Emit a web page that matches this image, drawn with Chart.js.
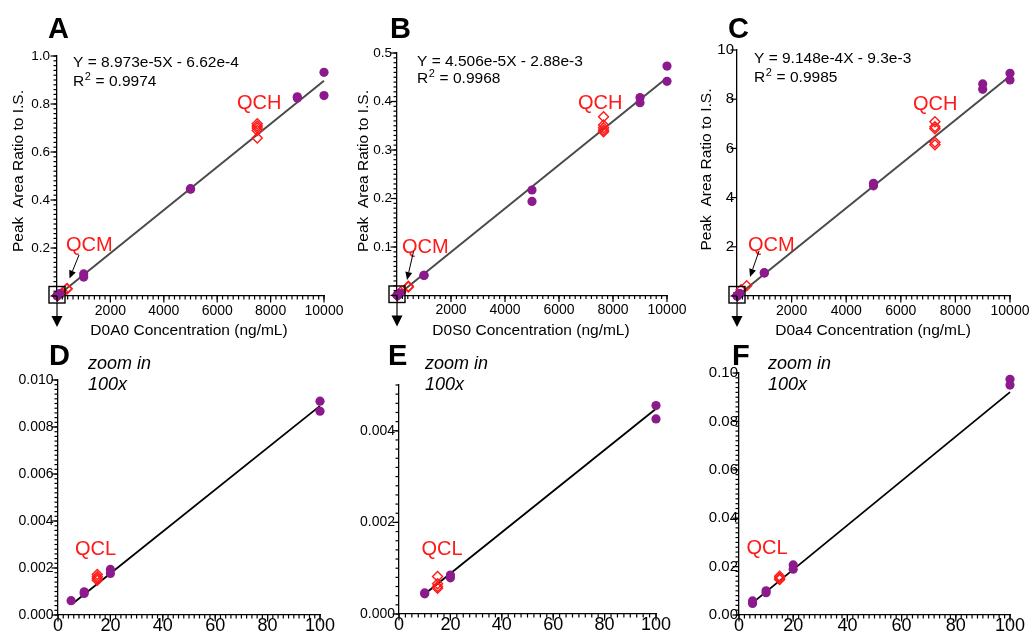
<!DOCTYPE html>
<html>
<head>
<meta charset="utf-8">
<title>Calibration curves</title>
<script src="https://cdn.jsdelivr.net/npm/chart.js@4.4.1/dist/chart.umd.min.js"></script>
<style>
  html, body { margin: 0; padding: 0; background: #fff; }
  #wrap { position: relative; width: 1030px; height: 633px; overflow: hidden; }
  #wrap canvas { position: absolute; left: 0; top: 0; }
</style>
</head>
<body>
<div id="wrap">
  <canvas id="cA" width="1030" height="633"></canvas>
  <canvas id="cB" width="1030" height="633"></canvas>
  <canvas id="cC" width="1030" height="633"></canvas>
  <canvas id="cD" width="1030" height="633"></canvas>
  <canvas id="cE" width="1030" height="633"></canvas>
  <canvas id="cF" width="1030" height="633"></canvas>
</div>
<script>
// ---------- data ----------

// D0A0 (panels A and D)
var concA    = [5, 10, 10, 20, 20, 100, 100, 1000, 1000, 5000, 5000, 9000, 9000, 10000, 10000];
var ratioA   = [0.00061, 0.00099, 0.00092, 0.00194, 0.00177, 0.0091, 0.00867, 0.092, 0.079, 0.447, 0.445, 0.830, 0.825, 0.932, 0.835];
var qcConcA  = [15, 15, 15, 15, 225, 375, 375, 7500, 7500, 7500, 7500, 7500];
var qcRatioA = [0.00172, 0.00163, 0.00155, 0.00148, 0.017, 0.029, 0.031, 0.718, 0.708, 0.700, 0.690, 0.658];
var fitConcA = [0, 10000];
var fitRatioA = [-0.0007, 0.897];
var fitConcD = [6, 100];
var fitRatioD = [0.00052, 0.0089];

// D0S0 (panels B and E)
var concB    = [10, 10, 20, 20, 100, 100, 1000, 1000, 5000, 5000, 9000, 9000, 10000, 10000];
var ratioB   = [0.00046, 0.00044, 0.00085, 0.00079, 0.00455, 0.00426, 0.0418, 0.0414, 0.2175, 0.194, 0.408, 0.3975, 0.473, 0.4416];
var qcConcB  = [15, 15, 15, 15, 130, 420, 420, 7650, 7650, 7650, 7650, 7650];
var qcRatioB = [0.00082, 0.00066, 0.0006, 0.00056, 0.007, 0.019, 0.0175, 0.3687, 0.3515, 0.346, 0.341, 0.3377];
var fitConcB = [5, 10000];
var fitRatioB = [0.0, 0.449];
var fitConcE = [11, 100];
var fitRatioE = [0.00048, 0.00448];

// D0a4 (panels C and F)
var concC    = [5, 5, 10, 10, 20, 20, 100, 100, 1000, 1000, 5000, 5000, 9000, 9000, 10000, 10000];
var ratioC   = [0.0058, 0.0048, 0.0100, 0.0092, 0.0207, 0.0189, 0.0974, 0.0950, 0.95, 0.93, 4.58, 4.48, 8.62, 8.40, 9.05, 8.78];
var qcConcC  = [15, 15, 15, 150, 355, 7250, 7250, 7250, 7250, 7250];
var qcRatioC = [0.0160, 0.0153, 0.0147, 0.25, 0.42, 7.08, 6.88, 6.80, 6.25, 6.15];
var fitConcC = [5, 10000];
var fitRatioC = [0.0, 8.94];
var fitConcF = [5, 100];
var fitRatioF = [0.005, 0.0921];

// tick labels
var xTicksFull = [0, 2000, 4000, 6000, 8000, 10000];
var xTicksZoom = [0, 20, 40, 60, 80, 100];
var yTicksA = [0, 0.2, 0.4, 0.6, 0.8, 1.0];
var yTicksB = [0, 0.1, 0.2, 0.3, 0.4, 0.5];
var yTicksC = [0, 2, 4, 6, 8, 10];
var yTicksD = [0, 0.002, 0.004, 0.006, 0.008, 0.010];
var yTicksE = [0, 0.002, 0.004];
var yTicksF = [0, 0.02, 0.04, 0.06, 0.08, 0.10];

var analytes  = ['D0A0', 'D0S0', 'D0a4'];
var equations = ['Y = 8.973e-5X - 6.62e-4', 'Y = 4.506e-5X - 2.88e-3', 'Y = 9.148e-4X - 9.3e-3'];
var r2values  = ['0.9974', '0.9968', '0.9985'];

// ---------- styling ----------
var FONT = '"Liberation Sans", Arial, Helvetica, sans-serif';
var PURPLE = '#8c1a8c';
var RED = '#ff1a1a';
var yTitle = 'Peak  Area Ratio to I.S.';

var panels = {
  cA: { area: {l: 57, t: 56, r: 324, b: 296}, xmax: 10000, ymax: 1.0, xTicks: xTicksFull, yTicks: yTicksA,
        minorX: 200, minorY: 0.02, yDigits: 1, hideZero: true, xFont: 14, yFont: 13.5, xPad: 6.5, yPad: 7,
        cx: concA, cy: ratioA, qx: qcConcA, qy: qcRatioA, fx: fitConcA, fy: fitRatioA, lineColor: '#4a4a4a', lineWidth: 2,
        letter: 'A', letterPos: [48, 38], yTitlePos: [23, 171], xTitle: analytes[0] + ' Concentration (ng/mL)', xTitlePos: [189, 335],
        eq: equations[0], r2: r2values[0], eqPos: [73, 66.5, 85.5],
        qcText: [['QCH', 237, 109], ['QCM', 66, 250.5]], arrow: [79, 255, 69.5, 278.5], box: true },
  cB: { area: {l: 397, t: 53, r: 667, b: 295.5}, xmax: 10000, ymax: 0.5, xTicks: xTicksFull, yTicks: yTicksB,
        minorX: 200, minorY: 0.01, yDigits: 1, hideZero: true, xFont: 14, yFont: 13.5, xPad: 6.5, yPad: 5,
        cx: concB, cy: ratioB, qx: qcConcB, qy: qcRatioB, fx: fitConcB, fy: fitRatioB, lineColor: '#4a4a4a', lineWidth: 2,
        letter: 'B', letterPos: [390, 38], yTitlePos: [368, 171], xTitle: analytes[1] + ' Concentration (ng/mL)', xTitlePos: [531, 335],
        eq: equations[1], r2: r2values[1], eqPos: [417, 66, 83],
        qcText: [['QCH', 578, 108.5], ['QCM', 402, 252.5]], arrow: [413.5, 251.5, 407, 280], box: true },
  cC: { area: {l: 737, t: 50, r: 1010, b: 296}, xmax: 10000, ymax: 10, xTicks: xTicksFull, yTicks: yTicksC,
        minorX: 200, minorY: 0, yDigits: 0, hideZero: true, xFont: 14, yFont: 15, xPad: 6.5, yPad: 3,
        cx: concC, cy: ratioC, qx: qcConcC, qy: qcRatioC, fx: fitConcC, fy: fitRatioC, lineColor: '#4a4a4a', lineWidth: 2,
        letter: 'C', letterPos: [728, 38], yTitlePos: [710.5, 169.5], xTitle: analytes[2] + ' Concentration (ng/mL)', xTitlePos: [873, 335],
        eq: equations[2], r2: r2values[2], eqPos: [754, 63, 82],
        qcText: [['QCH', 913, 109.5], ['QCM', 748, 250.5]], arrow: [759, 251, 750, 277], box: true },
  cD: { area: {l: 58, t: 380, r: 320, b: 615}, xmax: 100, ymax: 0.010, xTicks: xTicksZoom, yTicks: yTicksD,
        minorX: 2, minorY: 0.0002, yDigits: 3, hideZero: false, xFont: 18, yFont: 14, xPad: 0, yPad: 4.5,
        cx: concA, cy: ratioA, qx: qcConcA, qy: qcRatioA, fx: fitConcD, fy: fitRatioD, lineColor: '#000', lineWidth: 1.8,
        letter: 'D', letterPos: [49, 365], zoomPos: [88, 369, 390],
        qcText: [['QCL', 75, 554.5]] },
  cE: { area: {l: 399, t: 385, r: 656, b: 614}, xmax: 100, ymax: 0.005, xTicks: xTicksZoom, yTicks: yTicksE,
        minorX: 2.5, minorY: 0.0002, yDigits: 3, hideZero: false, xFont: 18, yFont: 14, xPad: 0, yPad: 4,
        cx: concB, cy: ratioB, qx: qcConcB, qy: qcRatioB, fx: fitConcE, fy: fitRatioE, lineColor: '#000', lineWidth: 1.8,
        letter: 'E', letterPos: [388, 365], zoomPos: [425, 369, 390],
        qcText: [['QCL', 421.5, 554.5]] },
  cF: { area: {l: 739, t: 373, r: 1010, b: 615}, xmax: 100, ymax: 0.10, xTicks: xTicksZoom, yTicks: yTicksF,
        minorX: 2, minorY: 0.002, yDigits: 2, hideZero: false, xFont: 18, yFont: 15, xPad: 0, yPad: 1,
        cx: concC, cy: ratioC, qx: qcConcC, qy: qcRatioC, fx: fitConcF, fy: fitRatioF, lineColor: '#000', lineWidth: 1.8,
        letter: 'F', letterPos: [732, 365], zoomPos: [768, 369, 390],
        qcText: [['QCL', 746.5, 553.5]] }
};

function pts(xs, ys) {
  return xs.map(function(x, i) { return {x: x, y: ys[i]}; });
}

// minor + major tick marks, titles and the little annotations
var decoPlugin = {
  id: 'deco',
  afterDraw: function(chart) {
    var p = panels[chart.canvas.id];
    var ctx = chart.ctx, xs = chart.scales.x, ys = chart.scales.y;
    var axisY = chart.chartArea.bottom, axisX = chart.chartArea.left;
    ctx.save();
    ctx.strokeStyle = '#000';
    ctx.fillStyle = '#000';
    ctx.lineWidth = 1.2;
    ctx.lineCap = 'butt';

    function tickX(v, len) {
      var px = xs.getPixelForValue(v);
      ctx.beginPath(); ctx.moveTo(px, axisY); ctx.lineTo(px, axisY + len); ctx.stroke();
    }
    function tickY(v, len) {
      var py = ys.getPixelForValue(v);
      ctx.beginPath(); ctx.moveTo(axisX, py); ctx.lineTo(axisX - len, py); ctx.stroke();
    }
    var i, n;
    if (p.minorX) {
      n = Math.round(p.xmax / p.minorX);
      for (i = 0; i <= n; i++) tickX(i * p.minorX, 3.5);
    }
    if (p.minorY) {
      n = Math.round(p.ymax / p.minorY);
      for (i = 0; i <= n; i++) tickY(i * p.minorY, 3.5);
    }
    p.xTicks.forEach(function(v) { tickX(v, 6.5); });
    p.yTicks.forEach(function(v) { tickY(v, 6.5); });

    // panel letter
    ctx.font = 'bold 29px ' + FONT;
    ctx.textAlign = 'left';
    ctx.textBaseline = 'alphabetic';
    ctx.fillText(p.letter, p.letterPos[0], p.letterPos[1]);

    // axis titles
    if (p.yTitlePos) {
      ctx.save();
      ctx.font = '15.5px ' + FONT;
      ctx.textAlign = 'center';
      ctx.translate(p.yTitlePos[0], p.yTitlePos[1]);
      ctx.rotate(-Math.PI / 2);
      ctx.fillText(yTitle, 0, 0);
      ctx.restore();
    }
    if (p.xTitle) {
      ctx.font = '15.5px ' + FONT;
      ctx.textAlign = 'center';
      ctx.fillText(p.xTitle, p.xTitlePos[0], p.xTitlePos[1]);
    }

    // regression equation
    if (p.eq) {
      var ex = p.eqPos[0];
      ctx.textAlign = 'left';
      ctx.font = '15.5px ' + FONT;
      ctx.fillText(p.eq, ex, p.eqPos[1]);
      ctx.fillText('R', ex, p.eqPos[2]);
      var wR = ctx.measureText('R').width;
      ctx.font = '11px ' + FONT;
      ctx.fillText('2', ex + wR + 0.5, p.eqPos[2] - 6);
      var w2 = ctx.measureText('2').width;
      ctx.font = '15.5px ' + FONT;
      ctx.fillText(' = ' + p.r2, ex + wR + w2 + 1, p.eqPos[2]);
    }

    // zoom note
    if (p.zoomPos) {
      ctx.textAlign = 'left';
      ctx.font = 'italic 18px ' + FONT;
      ctx.fillText('zoom in', p.zoomPos[0], p.zoomPos[1]);
      ctx.fillText('100x', p.zoomPos[0], p.zoomPos[2]);
    }

    // QC labels
    ctx.fillStyle = RED;
    ctx.font = '20px ' + FONT;
    ctx.textAlign = 'left';
    p.qcText.forEach(function(q) { ctx.fillText(q[0], q[1], q[2]); });
    ctx.fillStyle = '#000';

    // QCM pointer arrow
    if (p.arrow) {
      var a = p.arrow;
      var ang = Math.atan2(a[3] - a[1], a[2] - a[0]);
      var hl = 8, hw = 3.5;
      var bx = a[2] - hl * Math.cos(ang), by = a[3] - hl * Math.sin(ang);
      ctx.lineWidth = 1;
      ctx.beginPath(); ctx.moveTo(a[0], a[1]); ctx.lineTo(bx, by); ctx.stroke();
      ctx.beginPath();
      ctx.moveTo(a[2], a[3]);
      ctx.lineTo(bx + hw * Math.sin(ang), by - hw * Math.cos(ang));
      ctx.lineTo(bx - hw * Math.sin(ang), by + hw * Math.cos(ang));
      ctx.closePath(); ctx.fill();
    }

    // square around the origin and the arrow down to the zoomed panel
    if (p.box) {
      var x0 = xs.getPixelForValue(0), y0 = ys.getPixelForValue(0);
      ctx.lineWidth = 1.4;
      ctx.strokeRect(x0 - 8, y0 - 9.5, 16, 16.5);
      ctx.lineWidth = 1.2;
      ctx.beginPath(); ctx.moveTo(x0, y0 + 7); ctx.lineTo(x0, y0 + 21); ctx.stroke();
      ctx.beginPath();
      ctx.moveTo(x0 - 5.5, y0 + 20); ctx.lineTo(x0 + 5.5, y0 + 20); ctx.lineTo(x0, y0 + 31);
      ctx.closePath(); ctx.fill();
    }
    ctx.restore();
  }
};

function makePanel(id) {
  var p = panels[id];
  var fmtY = function(v) { return (p.hideZero && v === 0) ? '' : v.toFixed(p.yDigits); };
  var fmtX = function(v) { return (p.hideZero && v === 0) ? '' : String(v); };
  return new Chart(document.getElementById(id), {
    type: 'scatter',
    data: {
      datasets: [
        { data: pts(p.cx, p.cy), pointStyle: 'circle', pointRadius: 4.6, pointHoverRadius: 4.6,
          backgroundColor: PURPLE, borderWidth: 0, clip: 8 },
        { data: pts(p.qx, p.qy), pointStyle: 'rectRot', pointRadius: 5, pointHoverRadius: 5,
          backgroundColor: 'rgba(255,255,255,0)', borderColor: RED, borderWidth: 1.4, clip: 8 },
        { data: pts(p.fx, p.fy), showLine: true, pointRadius: 0, borderColor: p.lineColor,
          borderWidth: p.lineWidth, clip: 8 }
      ]
    },
    options: {
      responsive: false,
      animation: false,
      events: [],
      layout: { padding: { left: 0, top: p.area.t, right: 1030 - p.area.r, bottom: 0 } },
      plugins: { legend: { display: false }, tooltip: { enabled: false } },
      scales: {
        x: {
          type: 'linear', min: 0, max: p.xmax,
          afterFit: function(s) { s.height = 633 - p.area.b; s.paddingLeft = 0; s.paddingRight = 0; },
          afterBuildTicks: function(s) { s.ticks = p.xTicks.map(function(v) { return {value: v}; }); },
          border: { color: '#000', width: 1.3 },
          grid: { display: false, drawTicks: false },
          ticks: { color: '#000', font: { family: FONT, size: p.xFont }, padding: p.xPad,
                   autoSkip: false, maxRotation: 0, callback: fmtX }
        },
        y: {
          type: 'linear', min: 0, max: p.ymax,
          afterFit: function(s) { s.width = p.area.l; },
          afterBuildTicks: function(s) { s.ticks = p.yTicks.map(function(v) { return {value: v}; }); },
          border: { color: '#000', width: 1.3 },
          grid: { display: false, drawTicks: false },
          ticks: { color: '#000', font: { family: FONT, size: p.yFont }, padding: p.yPad,
                   autoSkip: false, callback: fmtY }
        }
      }
    },
    plugins: [decoPlugin]
  });
}

['cA', 'cB', 'cC', 'cD', 'cE', 'cF'].forEach(makePanel);
</script>
</body>
</html>
